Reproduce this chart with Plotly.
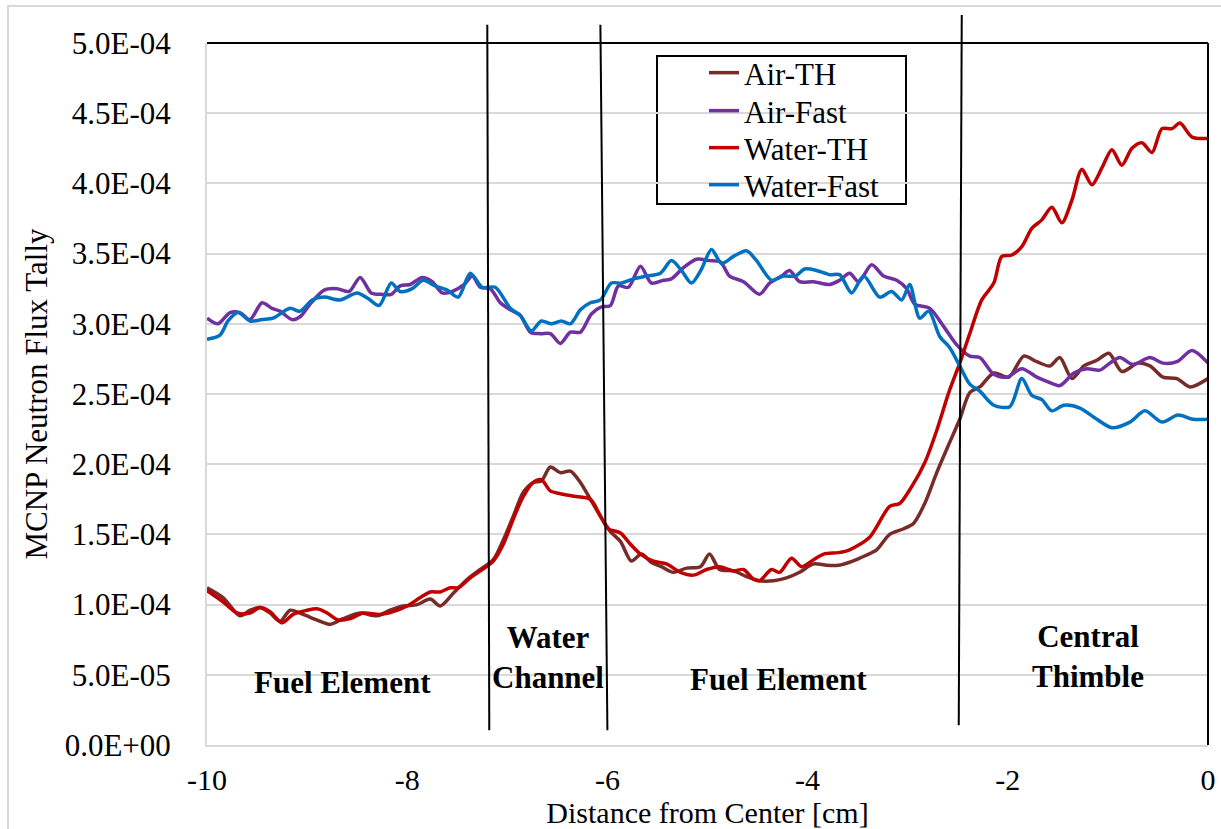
import plotly.graph_objects as go

# ---------------- data (flux tally) ----------------
air_th_x = [-10, -9.84, -9.67, -9.57, -9.47, -9.37, -9.27, -9.17, -9.04, -8.90,
            -8.77, -8.64, -8.47, -8.30, -8.17, -8.04, -7.90, -7.77, -7.67, -7.54,
            -7.40, -7.27, -7.14, -7.04, -6.94, -6.84, -6.74, -6.66, -6.57, -6.47,
            -6.37, -6.27, -6.17, -6.07, -5.97, -5.87, -5.76, -5.66, -5.56, -5.46,
            -5.34, -5.21, -5.07, -4.98, -4.88, -4.74, -4.61, -4.48, -4.34, -4.21,
            -4.08, -3.94, -3.81, -3.69, -3.55, -3.42, -3.31, -3.18, -3.04, -2.94,
            -2.83, -2.71, -2.59, -2.48, -2.38, -2.28, -2.14, -1.99, -1.84, -1.71,
            -1.58, -1.48, -1.36, -1.24, -1.11, -0.99, -0.86, -0.70, -0.58, -0.45,
            -0.31, -0.18, 0]
air_th_y = [1.12e-4, 1.05e-4, 0.92e-4, 0.96e-4, 0.98e-4, 0.94e-4, 0.88e-4, 0.96e-4, 0.93e-4, 0.89e-4,
            0.86e-4, 0.90e-4, 0.94e-4, 0.92e-4, 0.96e-4, 0.99e-4, 1.00e-4, 1.04e-4, 0.99e-4, 1.08e-4,
            1.18e-4, 1.25e-4, 1.32e-4, 1.46e-4, 1.63e-4, 1.80e-4, 1.87e-4, 1.88e-4, 1.98e-4, 1.94e-4,
            1.95e-4, 1.87e-4, 1.75e-4, 1.63e-4, 1.52e-4, 1.45e-4, 1.31e-4, 1.36e-4, 1.30e-4, 1.27e-4,
            1.23e-4, 1.26e-4, 1.27e-4, 1.36e-4, 1.25e-4, 1.24e-4, 1.20e-4, 1.17e-4, 1.17e-4, 1.19e-4,
            1.23e-4, 1.29e-4, 1.28e-4, 1.28e-4, 1.31e-4, 1.35e-4, 1.39e-4, 1.50e-4, 1.54e-4, 1.58e-4,
            1.72e-4, 1.94e-4, 2.14e-4, 2.32e-4, 2.51e-4, 2.55e-4, 2.65e-4, 2.62e-4, 2.77e-4, 2.73e-4,
            2.70e-4, 2.76e-4, 2.61e-4, 2.70e-4, 2.74e-4, 2.79e-4, 2.66e-4, 2.72e-4, 2.70e-4, 2.62e-4,
            2.61e-4, 2.55e-4, 2.61e-4]

air_fast_x = [-10, -9.89, -9.77, -9.67, -9.57, -9.45, -9.35, -9.27, -9.15, -9.07,
              -8.97, -8.83, -8.70, -8.58, -8.47, -8.36, -8.26, -8.16, -8.07, -7.97,
              -7.85, -7.75, -7.65, -7.55, -7.43, -7.35, -7.27, -7.17, -7.07, -6.97,
              -6.87, -6.77, -6.67, -6.57, -6.47, -6.37, -6.27, -6.16, -6.06, -5.97,
              -5.89, -5.79, -5.67, -5.56, -5.44, -5.36, -5.24, -5.11, -4.98, -4.87,
              -4.78, -4.64, -4.48, -4.38, -4.26, -4.18, -4.08, -3.94, -3.78, -3.68,
              -3.58, -3.49, -3.36, -3.24, -3.11, -3.01, -2.93, -2.78, -2.64, -2.51,
              -2.38, -2.28, -2.14, -2.01, -1.86, -1.71, -1.61, -1.48, -1.34, -1.21,
              -1.08, -0.98, -0.88, -0.75, -0.58, -0.45, -0.31, -0.16, 0]
air_fast_y = [3.04e-4, 3.00e-4, 3.08e-4, 3.08e-4, 3.03e-4, 3.15e-4, 3.11e-4, 3.09e-4, 3.03e-4, 3.05e-4,
              3.14e-4, 3.24e-4, 3.25e-4, 3.23e-4, 3.33e-4, 3.22e-4, 3.21e-4, 3.21e-4, 3.27e-4, 3.28e-4,
              3.33e-4, 3.30e-4, 3.22e-4, 3.23e-4, 3.28e-4, 3.34e-4, 3.26e-4, 3.25e-4, 3.15e-4, 3.10e-4,
              3.06e-4, 2.94e-4, 2.93e-4, 2.93e-4, 2.86e-4, 2.94e-4, 2.94e-4, 3.07e-4, 3.12e-4, 3.13e-4,
              3.27e-4, 3.26e-4, 3.41e-4, 3.29e-4, 3.31e-4, 3.32e-4, 3.40e-4, 3.46e-4, 3.45e-4, 3.44e-4,
              3.34e-4, 3.30e-4, 3.21e-4, 3.29e-4, 3.34e-4, 3.38e-4, 3.30e-4, 3.30e-4, 3.28e-4, 3.31e-4,
              3.36e-4, 3.30e-4, 3.42e-4, 3.34e-4, 3.31e-4, 3.25e-4, 3.14e-4, 3.11e-4, 2.98e-4, 2.85e-4,
              2.77e-4, 2.76e-4, 2.64e-4, 2.62e-4, 2.68e-4, 2.62e-4, 2.59e-4, 2.56e-4, 2.65e-4, 2.68e-4,
              2.67e-4, 2.72e-4, 2.76e-4, 2.71e-4, 2.76e-4, 2.72e-4, 2.73e-4, 2.81e-4, 2.72e-4]

water_th_x = [-10, -9.84, -9.70, -9.57, -9.47, -9.37, -9.25, -9.14, -9.00, -8.90,
              -8.80, -8.69, -8.57, -8.44, -8.27, -8.14, -8.00, -7.87, -7.77, -7.67,
              -7.57, -7.49, -7.37, -7.27, -7.14, -7.04, -6.94, -6.84, -6.74, -6.66,
              -6.57, -6.47, -6.31, -6.17, -6.07, -5.99, -5.87, -5.77, -5.67, -5.54,
              -5.41, -5.27, -5.14, -5.01, -4.88, -4.74, -4.64, -4.54, -4.48, -4.36,
              -4.28, -4.16, -4.06, -3.94, -3.84, -3.69, -3.58, -3.38, -3.18, -3.08,
              -2.96, -2.83, -2.71, -2.59, -2.48, -2.38, -2.26, -2.14, -2.06, -1.96,
              -1.86, -1.76, -1.66, -1.56, -1.46, -1.36, -1.26, -1.16, -1.06, -0.96,
              -0.86, -0.76, -0.66, -0.56, -0.46, -0.36, -0.28, -0.16, 0]
water_th_y = [1.10e-4, 1.02e-4, 0.94e-4, 0.94e-4, 0.98e-4, 0.95e-4, 0.87e-4, 0.93e-4, 0.96e-4, 0.97e-4,
              0.94e-4, 0.89e-4, 0.90e-4, 0.94e-4, 0.93e-4, 0.95e-4, 0.99e-4, 1.05e-4, 1.09e-4, 1.09e-4,
              1.12e-4, 1.12e-4, 1.19e-4, 1.24e-4, 1.31e-4, 1.43e-4, 1.61e-4, 1.77e-4, 1.87e-4, 1.89e-4,
              1.81e-4, 1.79e-4, 1.77e-4, 1.75e-4, 1.63e-4, 1.54e-4, 1.51e-4, 1.43e-4, 1.36e-4, 1.31e-4,
              1.29e-4, 1.23e-4, 1.21e-4, 1.25e-4, 1.27e-4, 1.24e-4, 1.25e-4, 1.18e-4, 1.17e-4, 1.25e-4,
              1.23e-4, 1.33e-4, 1.27e-4, 1.32e-4, 1.36e-4, 1.37e-4, 1.39e-4, 1.48e-4, 1.70e-4, 1.72e-4,
              1.84e-4, 2.01e-4, 2.24e-4, 2.51e-4, 2.72e-4, 2.93e-4, 3.17e-4, 3.29e-4, 3.48e-4, 3.49e-4,
              3.55e-4, 3.68e-4, 3.74e-4, 3.83e-4, 3.72e-4, 3.88e-4, 4.10e-4, 3.99e-4, 4.11e-4, 4.24e-4,
              4.13e-4, 4.25e-4, 4.29e-4, 4.22e-4, 4.39e-4, 4.39e-4, 4.43e-4, 4.33e-4, 4.32e-4]

water_fast_x = [-10, -9.87, -9.79, -9.69, -9.57, -9.45, -9.34, -9.17, -9.07, -8.95,
                -8.83, -8.67, -8.50, -8.39, -8.28, -8.16, -8.07, -7.95, -7.84, -7.72,
                -7.60, -7.49, -7.37, -7.25, -7.12, -6.97, -6.87, -6.76, -6.66, -6.56,
                -6.46, -6.37, -6.27, -6.17, -6.07, -5.96, -5.86, -5.74, -5.61, -5.47,
                -5.36, -5.26, -5.16, -5.06, -4.96, -4.86, -4.74, -4.61, -4.51, -4.36,
                -4.24, -4.12, -4.03, -3.91, -3.78, -3.68, -3.56, -3.44, -3.28, -3.16,
                -3.06, -2.98, -2.88, -2.79, -2.68, -2.58, -2.48, -2.38, -2.28, -2.14,
                -1.98, -1.86, -1.76, -1.66, -1.56, -1.44, -1.28, -1.11, -0.96, -0.78,
                -0.63, -0.46, -0.30, -0.15, 0]
water_fast_y = [2.89e-4, 2.92e-4, 3.02e-4, 3.08e-4, 3.02e-4, 3.03e-4, 3.04e-4, 3.11e-4, 3.09e-4, 3.17e-4,
                3.19e-4, 3.17e-4, 3.22e-4, 3.18e-4, 3.13e-4, 3.29e-4, 3.23e-4, 3.25e-4, 3.31e-4, 3.27e-4,
                3.24e-4, 3.19e-4, 3.36e-4, 3.26e-4, 3.26e-4, 3.11e-4, 3.06e-4, 2.95e-4, 3.02e-4, 3.00e-4,
                3.02e-4, 3.00e-4, 3.10e-4, 3.15e-4, 3.17e-4, 3.29e-4, 3.29e-4, 3.32e-4, 3.34e-4, 3.36e-4,
                3.45e-4, 3.38e-4, 3.29e-4, 3.39e-4, 3.53e-4, 3.43e-4, 3.48e-4, 3.52e-4, 3.45e-4, 3.31e-4,
                3.34e-4, 3.34e-4, 3.39e-4, 3.38e-4, 3.35e-4, 3.35e-4, 3.22e-4, 3.34e-4, 3.19e-4, 3.23e-4,
                3.17e-4, 3.28e-4, 3.04e-4, 3.09e-4, 2.91e-4, 2.83e-4, 2.70e-4, 2.57e-4, 2.52e-4, 2.42e-4,
                2.41e-4, 2.61e-4, 2.49e-4, 2.46e-4, 2.38e-4, 2.42e-4, 2.40e-4, 2.32e-4, 2.26e-4, 2.30e-4,
                2.38e-4, 2.30e-4, 2.35e-4, 2.32e-4, 2.32e-4]

series_names = ["Air-TH", "Air-Fast", "Water-TH", "Water-Fast"]
series_colors = ["#772C2A", "#7030A0", "#C00000", "#0070C0"]

y_tick_vals = [0, 5e-5, 1e-4, 1.5e-4, 2e-4, 2.5e-4, 3e-4, 3.5e-4, 4e-4, 4.5e-4, 5e-4]
y_tick_text = ["0.0E+00", "5.0E-05", "1.0E-04", "1.5E-04", "2.0E-04", "2.5E-04",
               "3.0E-04", "3.5E-04", "4.0E-04", "4.5E-04", "5.0E-04"]
x_tick_vals = [-10, -8, -6, -4, -2, 0]
x_tick_text = ["-10", "-8", "-6", "-4", "-2", "0"]

# region boundaries (top x, bottom x) and region labels
boundary_top_x = [-7.20, -6.07, -2.46]
boundary_bot_x = [-7.18, -6.00, -2.49]
boundary_top_y = [1.026, 1.026, 1.040]
boundary_bot_y = [0.021, 0.021, 0.028]
region_labels = ["Fuel Element", "Water<br>Channel", "Fuel Element", "Central<br>Thimble"]
region_label_x = [-8.65, -6.59, -4.29, -1.20]
region_label_y = [4.42e-5, 6.2e-5, 4.63e-5, 6.27e-5]

FONT = "Liberation Serif, Times New Roman, serif"

# pixel geometry of the plot area (for legend / frame placement)
PL, PR, PT, PB = 207, 1208, 43, 745


def px_x(p):
    return (p - PL) / (PR - PL)


def px_y(p):
    return (PB - p) / (PB - PT)


legend_rows_px = [73, 111, 148, 185]
legend_names = ["legend", "legend2", "legend3", "legend4"]

fig = go.Figure()
xs = [air_th_x, air_fast_x, water_th_x, water_fast_x]
ys = [air_th_y, air_fast_y, water_th_y, water_fast_y]
for name, color, x, y, lg in zip(series_names, series_colors, xs, ys, legend_names):
    fig.add_trace(go.Scatter(x=x, y=y, name=name, mode="lines", legend=lg,
                             line=dict(color=color, width=3.5, shape="spline", smoothing=0.8)))

shapes = []
# outer chart border (light grey)
shapes.append(dict(type="rect", xref="paper", yref="paper", x0=px_x(8), x1=px_x(1240),
                   y0=px_y(850), y1=px_y(6),
                   line=dict(color="#d9d9d9", width=2), layer="below"))
# top and right black frame
shapes.append(dict(type="line", xref="paper", yref="paper", x0=0, x1=1, y0=1, y1=1,
                   line=dict(color="black", width=2)))
shapes.append(dict(type="line", xref="paper", yref="paper", x0=1, x1=1, y0=0, y1=1,
                   line=dict(color="black", width=2)))
for xt, xb, yt, yb in zip(boundary_top_x, boundary_bot_x, boundary_top_y, boundary_bot_y):
    shapes.append(dict(type="line", xref="x", yref="paper", x0=xb, x1=xt, y0=yb, y1=yt,
                       line=dict(color="black", width=2)))
# legend box
shapes.append(dict(type="rect", xref="paper", yref="paper",
                   x0=px_x(657), x1=px_x(906), y0=px_y(204), y1=px_y(56),
                   line=dict(color="black", width=2), fillcolor="white", layer="below"))

annotations = []
for txt, ax, ay in zip(region_labels, region_label_x, region_label_y):
    annotations.append(dict(text="<b>" + txt + "</b>", x=ax, y=ay, xref="x", yref="y",
                            showarrow=False, align="center",
                            font=dict(family=FONT, size=31, color="black")))

legend_common = dict(xanchor="left", yanchor="middle", bgcolor="rgba(0,0,0,0)", borderwidth=0,
                     font=dict(family=FONT, size=31, color="black"), itemwidth=30)
layout_legends = {}
for lg, row in zip(legend_names, legend_rows_px):
    layout_legends[lg] = dict(x=px_x(704), y=px_y(row), **legend_common)

fig.update_layout(
    width=1221, height=829,
    margin=dict(l=PL, r=1221 - PR, t=PT, b=829 - PB, autoexpand=False),
    paper_bgcolor="white", plot_bgcolor="white",
    font=dict(family=FONT, size=31, color="black"),
    showlegend=True,
    shapes=shapes,
    annotations=annotations,
    xaxis=dict(range=[-10, 0], tickvals=x_tick_vals, ticktext=x_tick_text, showgrid=False,
               zeroline=False, automargin=False,
               showline=True, linecolor="#d9d9d9", linewidth=2, ticks="",
               tickfont=dict(family=FONT, size=30), ticklabelstandoff=7,
               title=dict(text="Distance from Center [cm]", standoff=3,
                          font=dict(family=FONT, size=30))),
    yaxis=dict(range=[0, 5e-4], tickvals=y_tick_vals, ticktext=y_tick_text, automargin=False,
               showgrid=True, gridcolor="#d9d9d9", gridwidth=2, zeroline=False,
               showline=True, linecolor="#d9d9d9", linewidth=2, ticks="",
               tickfont=dict(family=FONT, size=31), ticklabelstandoff=28,
               title=dict(text="MCNP Neutron Flux Tally", standoff=8,
                          font=dict(family=FONT, size=31))),
    **layout_legends,
)

fig.write_html("out.html")
